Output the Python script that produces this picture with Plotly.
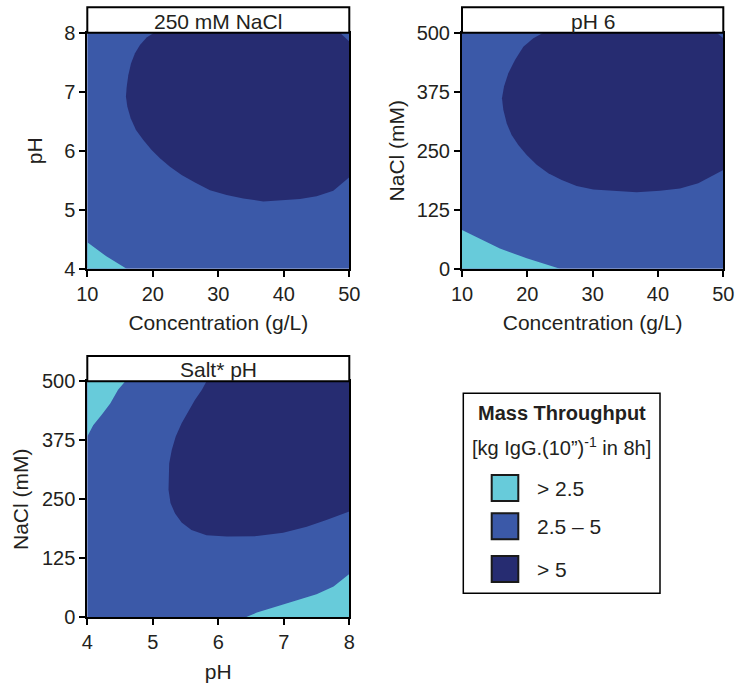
import plotly.graph_objects as go

# ---------------- data ----------------
# Panel 1: 250 mM NaCl  (x = Concentration g/L, y = pH) -- contour boundaries
p1_dark_conc = [20.18, 19.06, 18.04, 17.28, 16.67, 16.26, 16.01, 15.90, 16.11, 16.62, 17.43, 18.55, 19.82,
                21.09, 22.62, 24.40, 26.44, 28.73, 31.27, 33.82, 36.87, 39.92, 42.47, 45.01, 47.56, 50, 50, 48.57]
p1_dark_ph = [8.0, 7.92, 7.79, 7.65, 7.48, 7.28, 7.08, 6.92, 6.75, 6.55, 6.35, 6.18, 6.01,
              5.87, 5.73, 5.59, 5.46, 5.33, 5.25, 5.19, 5.14, 5.16, 5.18, 5.23, 5.32, 5.55, 7.85, 8.0]
p1_cyan_conc = [10, 12.9, 16.0, 10]
p1_cyan_ph = [4.45, 4.21, 4.0, 4.0]

# Panel 2: pH 6  (x = Concentration g/L, y = NaCl mM)
p2_dark_conc = [22.45, 20.92, 19.39, 18.11, 17.09, 16.43, 16.12, 16.33, 16.84, 17.60, 18.62, 19.90, 21.43,
                23.21, 25.26, 27.55, 30.10, 33.16, 36.73, 40.31, 43.37, 46.17, 48.47, 50, 50, 48.98]
p2_dark_nacl = [500, 488, 470, 442, 414, 386, 361, 336, 308, 283, 262, 241, 220,
                202, 188, 175, 168, 165, 162, 165, 170, 181, 198, 209, 488, 500]
p2_cyan_conc = [10, 12.8, 15.8, 19.9, 23.0, 25, 10]
p2_cyan_nacl = [82, 64, 43, 22, 8, 0, 0]

# Panel 3: Salt* pH  (x = pH, y = NaCl mM)
p3_dark_ph = [5.82, 5.75, 5.64, 5.54, 5.44, 5.35, 5.29, 5.25, 5.24, 5.24, 5.27, 5.34, 5.44, 5.59,
              5.82, 6.13, 6.59, 6.99, 7.35, 7.65, 8, 8]
p3_dark_nacl = [500, 482, 460, 436, 411, 383, 355, 326, 298, 270, 242, 220, 201, 185,
                174, 171, 172, 179, 192, 206, 224, 500]
p3_cyan_tl_ph = [4, 4.58, 4.47, 4.35, 4.22, 4.09, 4]
p3_cyan_tl_nacl = [500, 500, 482, 453, 429, 407, 383]
p3_cyan_br_ph = [6.42, 6.59, 6.89, 7.20, 7.50, 7.76, 8, 8]
p3_cyan_br_nacl = [0, 10, 23, 37, 49, 65, 92, 0]

panel_titles = ["250 mM NaCl", "pH 6", "Salt* pH"]
conc_ticks = [10, 20, 30, 40, 50]
ph_ticks = [4, 5, 6, 7, 8]
nacl_ticks = [0, 125, 250, 375, 500]

legend_title = "Mass Throughput"
legend_subtitle = "[kg IgG.(10”)<sup>-1</sup> in 8h]"
legend_labels = ["> 2.5", "2.5 – 5", "> 5"]

# ---------------- styles ----------------
CYAN = "#67CBDA"
MID = "#3B59A8"
DARK = "#262C71"
colors = [CYAN, MID, DARK]
TXT = "#231F20"
FONT = "Liberation Sans, Arial, sans-serif"
W, H = 736, 685


def px_x(p):
    return p / W


def px_y(p):
    return 1 - p / H


fig = go.Figure()


def poly(x, y, color, xa, ya):
    fig.add_trace(go.Scatter(x=x, y=y, fill="toself", fillcolor=color, mode="lines",
                             line=dict(width=0, color=color), hoverinfo="skip",
                             showlegend=False, xaxis=xa, yaxis=ya))


# panel 1
poly(p1_dark_conc, p1_dark_ph, DARK, "x", "y")
poly(p1_cyan_conc, p1_cyan_ph, CYAN, "x", "y")
# panel 2
poly(p2_dark_conc, p2_dark_nacl, DARK, "x2", "y2")
poly(p2_cyan_conc, p2_cyan_nacl, CYAN, "x2", "y2")
# panel 3
poly(p3_dark_ph, p3_dark_nacl, DARK, "x3", "y3")
poly(p3_cyan_tl_ph, p3_cyan_tl_nacl, CYAN, "x3", "y3")
poly(p3_cyan_br_ph, p3_cyan_br_nacl, CYAN, "x3", "y3")

# panel pixel boxes [x0, x1, ytop, ybottom]
boxes = [(87.3, 349.3, 32.7, 268.7), (462.0, 723.3, 32.7, 268.7), (87.3, 349.3, 381.3, 617.3)]

axis_common = dict(showline=True, linecolor="black", linewidth=2, mirror=True,
                   ticks="outside", ticklen=6, tickwidth=2, tickcolor="black",
                   showgrid=False, zeroline=False, layer="above traces", automargin=False,
                   tickfont=dict(family=FONT, size=20, color=TXT),
                   title_font=dict(family=FONT, size=21, color=TXT))

specs = [
    (conc_ticks, [10, 50], "Concentration (g/L)", ph_ticks, [4, 8], "pH", 16),
    (conc_ticks, [10, 50], "Concentration (g/L)", nacl_ticks, [0, 500], "NaCl (mM)", 6),
    (ph_ticks, [4, 8], "pH", nacl_ticks, [0, 500], "NaCl (mM)", 8),
]

for i, ((x0, x1, yt, yb), (xt, xr, xtitle, yt_, yr, ytitle, ystand)) in enumerate(zip(boxes, specs)):
    sfx = "" if i == 0 else str(i + 1)
    xa = dict(axis_common, domain=[px_x(x0), px_x(x1)], range=xr, tickvals=xt,
              anchor="y" + sfx, title=dict(text=xtitle, standoff=12))
    ya = dict(axis_common, domain=[px_y(yb), px_y(yt)], range=yr, tickvals=yt_,
              anchor="x" + sfx, title=dict(text=ytitle, standoff=ystand))
    fig.update_layout(**{"xaxis" + sfx: xa, "yaxis" + sfx: ya})

shapes = []
annotations = []
# title strips
for (x0, x1, yt, yb), title in zip(boxes, panel_titles):
    top = yt - 25.4
    shapes.append(dict(type="rect", xref="paper", yref="paper",
                       x0=px_x(x0), x1=px_x(x1), y0=px_y(yt), y1=px_y(top),
                       fillcolor="white", line=dict(color="black", width=2)))
    annotations.append(dict(xref="paper", yref="paper", x=px_x((x0 + x1) / 2), y=px_y((yt + top) / 2 + 1),
                            text=title, showarrow=False, xanchor="center", yanchor="middle",
                            font=dict(family=FONT, size=21, color=TXT)))

# legend box
lx0, lx1, ly0, ly1 = 463.3, 660.0, 393.3, 593.3
shapes.append(dict(type="rect", xref="paper", yref="paper",
                   x0=px_x(lx0), x1=px_x(lx1), y0=px_y(ly1), y1=px_y(ly0),
                   fillcolor="white", line=dict(color="black", width=1.5)))
lcx = (lx0 + lx1) / 2
annotations.append(dict(xref="paper", yref="paper", x=px_x(lcx), y=px_y(413),
                        text="<b>" + legend_title + "</b>", showarrow=False,
                        xanchor="center", yanchor="middle",
                        font=dict(family=FONT, size=20, color=TXT)))
annotations.append(dict(xref="paper", yref="paper", x=px_x(lcx), y=px_y(446),
                        text=legend_subtitle, showarrow=False,
                        xanchor="center", yanchor="middle",
                        font=dict(family=FONT, size=20, color=TXT)))
sq_tops = [475.0, 513.3, 556.0]
for top, col, lab in zip(sq_tops, colors, legend_labels):
    shapes.append(dict(type="rect", xref="paper", yref="paper",
                       x0=px_x(491.7), x1=px_x(518.3), y0=px_y(top + 26), y1=px_y(top),
                       fillcolor=col, line=dict(color="#1a1a1a", width=2)))
    annotations.append(dict(xref="paper", yref="paper", x=px_x(535), y=px_y(top + 13),
                            text=lab, showarrow=False, xanchor="left", yanchor="middle",
                            font=dict(family=FONT, size=21, color=TXT)))

fig.update_layout(
    width=W, height=H,
    margin=dict(l=0, r=0, t=0, b=0),
    paper_bgcolor="white",
    plot_bgcolor=MID,
    showlegend=False,
    shapes=shapes,
    annotations=annotations,
    font=dict(family=FONT, color=TXT),
)

fig.write_html("out.html", config={"displayModeBar": False},
               post_script="document.body.style.margin='0';")
